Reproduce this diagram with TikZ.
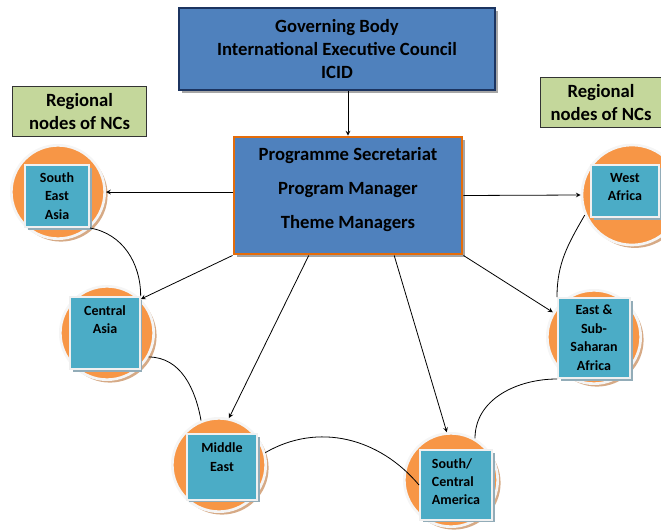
\documentclass[tikz,border=0pt]{standalone}
\usepackage{fontspec}
\setmainfont{Carlito}
\usetikzlibrary{shapes.geometric, arrows, shadows, calc}
\definecolor{boxblue}{RGB}{79,129,189}
\definecolor{govnavy}{RGB}{28,52,96}
\definecolor{progorange}{RGB}{228,108,10}
\definecolor{regiongreen}{RGB}{196,215,155}
\definecolor{ringorange}{RGB}{247,150,70}
\definecolor{ringshadow}{RGB}{214,170,134}
\definecolor{tealbox}{RGB}{75,172,198}
\definecolor{tealshadow}{RGB}{146,172,184}
\tikzstyle{arrow} = [line width=0.6pt,->,>=stealth]
\tikzstyle{link} = [line width=0.6pt, black]
\tikzstyle{governing} = [rectangle, minimum width=237pt, minimum height=61.5pt, text centered, align=center, draw=govnavy, line width=2.2pt, fill=boxblue, font=\bfseries\fontsize{14}{17.6}\selectfont, drop shadow={shadow xshift=2.5pt, shadow yshift=-2.5pt, fill=black!35, opacity=1}]
\tikzstyle{secretariat} = [rectangle, minimum width=171pt, minimum height=87.75pt, text centered, align=center, draw=progorange, line width=2.2pt, fill=boxblue, font=\bfseries\fontsize{14}{25.5}\selectfont, text depth=11.5pt, drop shadow={shadow xshift=2.5pt, shadow yshift=-2.5pt, fill=black!35, opacity=1}]
\tikzstyle{regional} = [rectangle, minimum height=38pt, text centered, align=center, draw=black!80, line width=0.6pt, fill=regiongreen, font=\bfseries\fontsize{14}{17.3}\selectfont]
\tikzstyle{ring} = [circle, minimum size=70pt, inner sep=0pt, draw=white!96!black, line width=2pt, fill=ringorange, drop shadow={shadow xshift=2.2pt, shadow yshift=-2.2pt, fill=ringshadow, opacity=1}]
\tikzstyle{region} = [rectangle, inner sep=1pt, text centered, align=center, draw=white!94!black, line width=1.5pt, fill=tealbox, font=\bfseries\fontsize{10.5}{13.8}\selectfont, drop shadow={shadow xshift=2pt, shadow yshift=-2pt, fill=tealshadow, opacity=1}]

\begin{document}
\begin{tikzpicture}[x=0.75pt, y=0.75pt]
\useasboundingbox (0,0) rectangle (661,-529);

\node (gov) [governing] at (337,-49) {Governing Body\\International Executive Council\\ICID};
\node (prog) [secretariat] at (348,-195.5) {Programme Secretariat\\Program Manager\\Theme Managers};

\node (reg_l) [regional, minimum width=101pt] at (79.5,-111.5) {Regional\\nodes of NCs};
\node (reg_r) [regional, minimum width=91.5pt] at (601,-102.5) {Regional\\nodes of NCs};

\node (sea_ring) [ring] at (58,-192) {};
\node (wa_ring) [ring, minimum size=75pt] at (632,-195) {};
\node (ca_ring) [ring] at (107,-333) {};
\node (esa_ring) [ring] at (594,-337) {};
\node (me_ring) [ring] at (219,-465) {};
\node (sca_ring) [ring] at (451,-480) {};

\node (sea) [region, minimum width=48pt, minimum height=46.5pt, text depth=0pt] at (57,-196) {South\\East\\Asia};
\node (wa) [region, minimum width=51pt, minimum height=39pt, text depth=5.8pt] at (625,-191) {West\\Africa};
\node (ca) [region, minimum width=52pt, minimum height=54pt, text depth=20pt] at (105,-333) {Central\\Asia};
\node (esa) [region, minimum width=54pt, minimum height=60pt, text depth=0.6pt] at (594,-338) {East \&\\Sub-\\Saharan\\Africa};
\node (me) [region, minimum width=53pt, minimum height=49pt, text depth=14.8pt] at (222,-467) {Middle\\East};
\node (sca) [region, align=left, minimum width=54pt, minimum height=52pt, text depth=5pt] at (456,-485) {South/\\Central\\America};

\draw [arrow] (prog.north |- gov.south) -- (prog.north);
\draw [arrow] (prog.west |- sea_ring) -- (sea_ring.east);
\draw [arrow] (prog.east) -- (wa_ring.west);
\draw [arrow] (prog.south west) -- (ca_ring.45);
\draw [arrow] ($(prog.south west)!.33!(prog.south east)$) -- (me_ring.78);
\draw [arrow] ($(prog.south west)!.70!(prog.south east)$) -- (sca_ring.95);
\draw [arrow] (prog.south east) -- (esa_ring.149);

% ring of regional nodes
\draw [link] (sea.south east) to[out=-10, in=90] (ca.north east);
\draw [link] (ca_ring.-30) to[out=0, in=100] (me_ring.112);
\draw [link] (me_ring.15) to[out=30, in=130] (sca.west);
\draw [link] (sca_ring.60) to[out=90, in=180] (esa.south west);
\draw [link] (esa.north west) to[out=90, in=-120] (wa_ring.203);

\end{tikzpicture}
\end{document}
